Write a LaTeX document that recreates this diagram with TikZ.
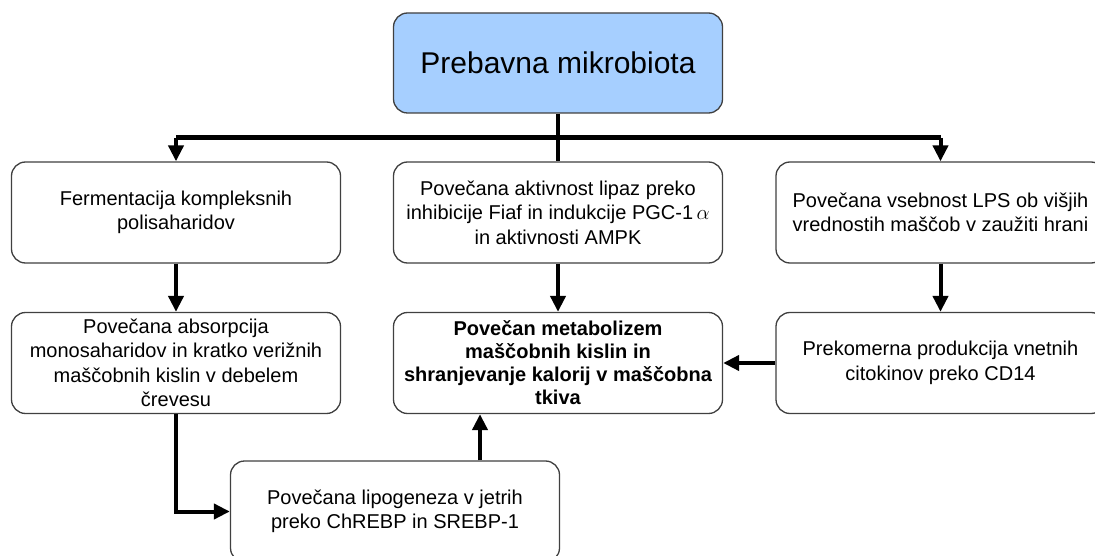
\documentclass[tikz,border=0pt]{standalone}
\usepackage{fontspec}
\setmainfont{Liberation Sans}
\usetikzlibrary{arrows.meta}
\definecolor{skyfill}{HTML}{A6CFFF}
\tikzset{box/.style = {draw = black!75, line width = 1.3pt, rounded corners = 14pt,
                       fill = white, minimum width = 329pt, minimum height = 101pt,
                       align = center, inner sep = 2pt,
                       font = \fontsize{20}{24.5}\selectfont}}
\tikzset{head/.style = {box, fill = skyfill, minimum height = 100pt,
                        font = \fontsize{30}{34}\selectfont}}
\tikzset{link/.style = {line width = 4pt, -{Triangle[length = 16pt, width = 15pt]}}}
\tikzset{bus/.style = {line width = 5pt}}

\begin{document}
\begin{tikzpicture}[x = 1pt, y = -1pt]
      \clip (0, 0) rectangle (1095, 556);
      \useasboundingbox (0, 0) rectangle (1095, 556);

      \node [head] (micro) at (558, 63) {Prebavna mikrobiota};

      \node [box] (ferm) at (176, 212.5) {Fermentacija kompleksnih\\polisaharidov};
      \node [box] (lipaz) at (558, 212.5) {Povečana aktivnost lipaz preko\\inhibicije Fiaf in indukcije PGC-1\,$\alpha$\\in aktivnosti AMPK};
      \node [box] (lps) at (940.5, 212.5) {Povečana vsebnost LPS ob višjih\\vrednostih maščob v zaužiti hrani};

      \node [box] (absorp) at (176, 363) {Povečana absorpcija\\monosaharidov in kratko verižnih\\maščobnih kislin v debelem\\črevesu};
      \node [box, font = \fontsize{20}{23}\selectfont\bfseries] (metab) at (558, 363) {Povečan metabolizem\\maščobnih kislin in\\shranjevanje kalorij v maščobna\\tkiva};
      \node [box] (citok) at (940.5, 363) {Prekomerna produkcija vnetnih\\citokinov preko CD14};

      \node [box] (lipog) at (395, 511.5) {Povečana lipogeneza v jetrih\\preko ChREBP in SREBP-1};

      \coordinate (bar) at (558, 138);
      \draw [line width = 4pt] (micro) -- (lipaz);
      \draw [bus] (bar -| ferm.north) -- (bar -| lps.north);
      \draw [link] (bar -| ferm.north) -- (ferm.north);
      \draw [link] (bar -| lps.north) -- (lps.north);

      \draw [link] (ferm) -- (absorp);
      \draw [link] (lipaz) -- (metab);
      \draw [link] (lps) -- (citok);
      \draw [link] (citok) -- (metab);
      \draw [link] (absorp.south) |- (lipog.west);
      \draw [link] ([xshift = 85pt] lipog.north) -- ([xshift = 85pt] lipog.north |- metab.south);
    \end{tikzpicture}
\end{document}
